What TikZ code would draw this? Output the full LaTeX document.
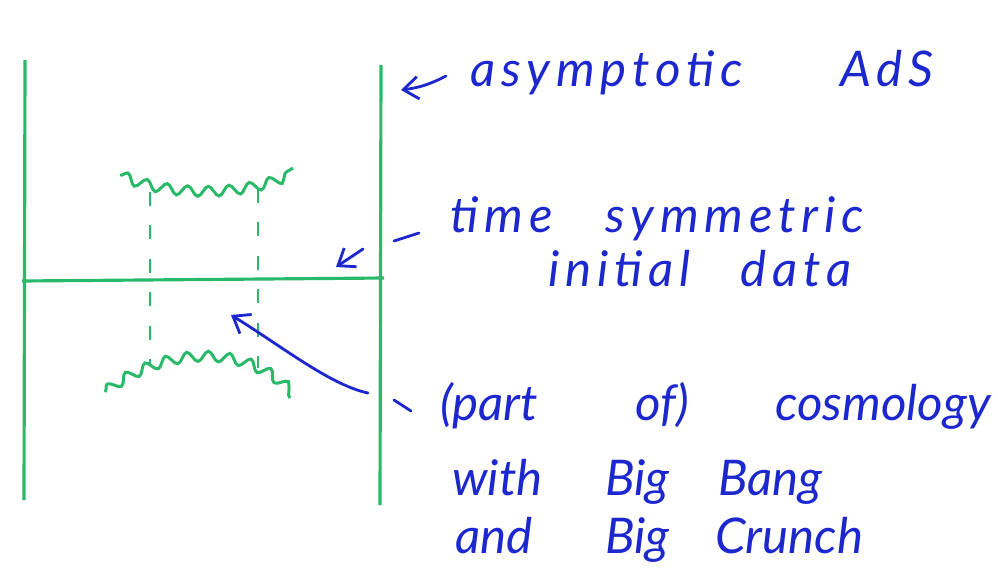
\documentclass[tikz,border=0pt]{standalone}
\usepackage{fontspec}
\setmainfont{Lato}
\newfontfamily\wide{Lato}[LetterSpace=12]
\usetikzlibrary{arrows.meta, decorations.pathmorphing}
\definecolor{penblue}{RGB}{28, 40, 205}
\definecolor{pengreen}{RGB}{40, 185, 105}
\tikzset{
    wall/.style  ={draw=pengreen, line width=1.8pt},
    crease/.style={draw=pengreen, line width=1.6pt, dash pattern=on 8pt off 11pt},
    bang/.style  ={draw=pengreen, line width=1.7pt, decorate,
                   decoration={snake, amplitude=0.1cm, segment length=0.42cm}},
    note/.style  ={text=penblue, font=\fontsize{28}{30}\selectfont\itshape,
                   anchor=base west, inner sep=0pt},
    pen/.style   ={draw=penblue, line width=1.6pt, line cap=round,
                   -{Straight Barb[length=3mm, width=4.5mm]}},
    tick/.style  ={draw=penblue, line width=1.6pt, line cap=round}
}
\newcommand{\col}[2]{\makebox[#1cm][l]{#2}}

\begin{document}
\begin{tikzpicture}[x=0.02cm, y=-0.02cm]
  \useasboundingbox (0,0) rectangle (998,572);

  % ---- boundary of AdS and the time slice
  \coordinate (lwt) at (25,60);   \coordinate (lwb) at (24,500);
  \coordinate (rwt) at (381,65);  \coordinate (rwb) at (380,505);
  \coordinate (sl)  at (22,281);  \coordinate (sr)  at (384,278);
  \draw[wall] (lwt) -- (lwb);
  \draw[wall] (rwt) -- (rwb);
  \draw[wall] (sl) -- (sr);

  % ---- crunch and bang
  \coordinate (ct0) at (120,175); \coordinate (ct1) at (293,168);
  \coordinate (bb0) at (105,392); \coordinate (bb1) at (290,398);
  \draw[bang] (ct0) .. controls (165,195) and (250,195) .. (ct1);
  \draw[bang] (bb0) .. controls (160,350) and (245,345) .. (bb1);

  \coordinate (dlt) at (150,192); \coordinate (dlb) at (150,366);
  \coordinate (drt) at (258,189); \coordinate (drb) at (258,368);
  \draw[crease] (dlt) -- (dlb);
  \draw[crease] (drt) -- (drb);

  % ---- labels
  \node[note] (ads)  at (470,86)  {\wide\col{7.4}{asymptotic}AdS};
  \node[note] (tsym) at (450,232) {\wide\col{3.1}{time}symmetric};
  \node[note] (init) at (548,286) {\wide\col{3.84}{initial}data};
  \node[note] (cosm) at (440,420) {\col{3.9}{(part}\col{2.8}{of)}cosmology};
  \node[note] (bang) at (452,495) {\col{3.06}{with}\col{2.26}{Big}Bang};
  \node[note] (crun) at (455,553) {\col{3.0}{and}\col{2.2}{Big}Crunch};

  % ---- pointers
  \coordinate (adst) at (446,76);  \coordinate (adsh) at (401,90);
  \draw[pen] (adst) to[bend left=10] (adsh);

  \coordinate (tk1a) at (394,241); \coordinate (tk1b) at (419,233);
  \draw[tick] (tk1a) -- (tk1b);
  \coordinate (slct) at (363,249); \coordinate (slch) at (336,267);
  \draw[pen] (slct) -- (slch);

  \coordinate (tk2a) at (394,400); \coordinate (tk2b) at (411,411);
  \draw[tick] (tk2a) -- (tk2b);
  \coordinate (cost) at (368,393); \coordinate (cosh) at (231,315);
  \draw[pen] (cost) .. controls (330,385) and (280,345) .. (cosh);
\end{tikzpicture}
\end{document}
